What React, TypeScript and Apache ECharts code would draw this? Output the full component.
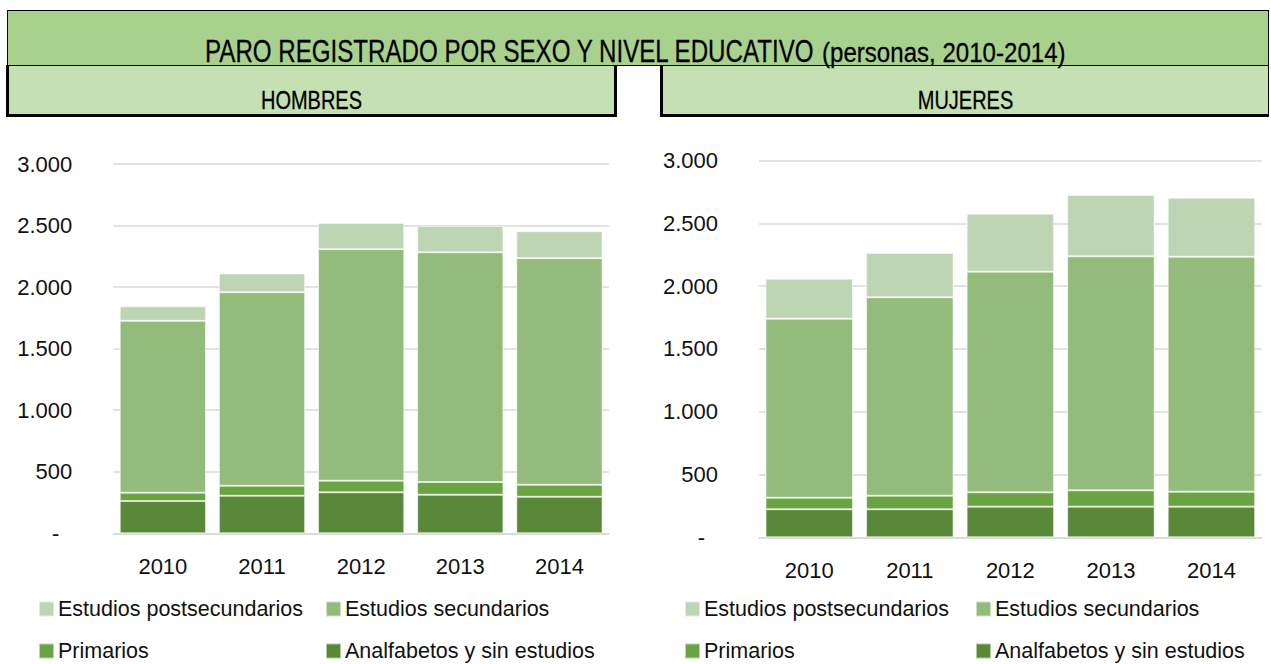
import React, { useEffect, useRef } from "react";
import * as echarts from "echarts";

const years = ["2010", "2011", "2012", "2013", "2014"];
const seriesNames = [
  "Analfabetos y sin estudios",
  "Primarios",
  "Estudios secundarios",
  "Estudios postsecundarios",
];
const hombresAnalfabetos = [262, 305, 333, 313, 297];
const hombresPrimarios = [68, 81, 94, 103, 97];
const hombresSecundarios = [1396, 1573, 1881, 1867, 1841];
const hombresPostsecundarios = [119, 151, 213, 214, 219];
const mujeresAnalfabetos = [223, 223, 244, 244, 244];
const mujeresPrimarios = [92, 108, 114, 130, 119];
const mujeresSecundarios = [1425, 1580, 1757, 1863, 1871];
const mujeresPostsecundarios = [319, 353, 462, 488, 470];
const yMin = 0;
const yMax = 3000;
const yStep = 500;

const colors = ["#588838", "#6AA342", "#93BC7C", "#BED5B3"];
const FONT = "'Liberation Sans', Arial, sans-serif";
const TXT = "#111111";

function fmt(v: number) {
  if (v === 0) return "{d|-}";
  return String(v).replace(/\B(?=(\d{3})+(?!\d))/g, ".");
}

export default function App() {
  const ref = useRef<HTMLDivElement>(null);
  useEffect(() => {
    document.body.style.margin = "0";
    const chart = echarts.init(ref.current!, undefined, { renderer: "svg" });
    const hombres = [hombresAnalfabetos, hombresPrimarios, hombresSecundarios, hombresPostsecundarios];
    const mujeres = [mujeresAnalfabetos, mujeresPrimarios, mujeresSecundarios, mujeresPostsecundarios];

    const mkX = (gi: number) => ({
      type: "category",
      gridIndex: gi,
      data: years,
      axisTick: { show: false },
      axisLine: { lineStyle: { color: "#D9D9D9", width: 1.5 } },
      axisLabel: { color: TXT, fontSize: 22, fontFamily: FONT, margin: 22 },
    });
    const mkY = (gi: number) => ({
      type: "value",
      gridIndex: gi,
      min: yMin,
      max: yMax,
      interval: yStep,
      axisLine: { show: false },
      axisTick: { show: false },
      splitLine: { lineStyle: { color: "#D9D9D9", width: 1.5 } },
      axisLabel: {
        color: TXT,
        fontSize: 22,
        fontFamily: FONT,
        margin: 41,
        formatter: fmt,
        rich: { d: { color: TXT, fontSize: 22, fontFamily: FONT, padding: [0, 13, 0, 0] } },
      },
    });

    const series: any[] = [];
    [hombres, mujeres].forEach((set, gi) => {
      set.forEach((data, i) => {
        series.push({
          type: "bar",
          name: seriesNames[i],
          xAxisIndex: gi,
          yAxisIndex: gi,
          stack: "s" + gi,
          data,
          barCategoryGap: "13%",
          itemStyle: { color: colors[i], borderColor: "rgba(255,255,255,0.55)", borderWidth: 1 },
        });
      });
    });

    const legendPos = [
      { name: "Estudios postsecundarios", col: 0, row: 0 },
      { name: "Estudios secundarios", col: 1, row: 0 },
      { name: "Primarios", col: 0, row: 1 },
      { name: "Analfabetos y sin estudios", col: 1, row: 1 },
    ];
    const colLeft = [
      [38, 325],
      [684, 975],
    ];
    const rowTop = [598, 640];
    const legends: any[] = [];
    [0, 1].forEach((c) => {
      legendPos.forEach((lp) => {
        legends.push({
          data: [lp.name],
          left: colLeft[c][lp.col],
          top: rowTop[lp.row],
          padding: 0,
          icon: "rect",
          itemWidth: 15,
          itemHeight: 15,
          itemGap: 0,
          textStyle: { color: TXT, fontSize: 21.5, fontFamily: FONT, padding: [0, 0, 0, -1] },
        });
      });
    });

    chart.setOption({
      animation: false,
      color: colors,
      graphic: [
        { type: "rect", shape: { x: 7, y: 10, width: 1262, height: 56 }, style: { fill: "#000" } },
        { type: "rect", shape: { x: 8, y: 11, width: 1260, height: 54 }, style: { fill: "#A9D18E" } },
        { type: "rect", shape: { x: 6, y: 65, width: 611, height: 52 }, style: { fill: "#000" } },
        { type: "rect", shape: { x: 9, y: 66, width: 605, height: 48 }, style: { fill: "#C5E0B3" } },
        { type: "rect", shape: { x: 660, y: 65, width: 609, height: 52 }, style: { fill: "#000" } },
        { type: "rect", shape: { x: 663, y: 66, width: 605, height: 48 }, style: { fill: "#C5E0B3" } },
        {
          type: "text",
          x: 205,
          y: 51,
          scaleX: 0.754,
          style: {
            text: "PARO REGISTRADO POR SEXO Y NIVEL EDUCATIVO",
            align: "left",
            verticalAlign: "middle",
            fontSize: 32,
            fontFamily: FONT,
            fill: "#000",
            stroke: "#000",
            lineWidth: 0.3,
          },
        },
        {
          type: "text",
          x: 822,
          y: 52,
          scaleX: 0.86,
          style: {
            text: "(personas, 2010-2014)",
            align: "left",
            verticalAlign: "middle",
            fontSize: 28,
            fontFamily: FONT,
            fill: "#000",
            stroke: "#000",
            lineWidth: 0.3,
          },
        },
        {
          type: "text",
          x: 311.5,
          y: 101,
          scaleX: 0.8,
          style: { text: "HOMBRES", align: "center", verticalAlign: "middle", fontSize: 25, fontFamily: FONT, fill: "#000", stroke: "#000", lineWidth: 0.3 },
        },
        {
          type: "text",
          x: 965.5,
          y: 101,
          scaleX: 0.8,
          style: { text: "MUJERES", align: "center", verticalAlign: "middle", fontSize: 25, fontFamily: FONT, fill: "#000", stroke: "#000", lineWidth: 0.3 },
        },
      ],
      legend: legends,
      grid: [
        { left: 113.3, right: 662, top: 164, bottom: 130.7 },
        { left: 759, right: 9.3, top: 160.5, bottom: 126.7 },
      ],
      xAxis: [mkX(0), mkX(1)],
      yAxis: [mkY(0), mkY(1)],
      series,
    });
    return () => chart.dispose();
  }, []);
  return <div ref={ref} style={{ width: 1271, height: 664 }} />;
}
